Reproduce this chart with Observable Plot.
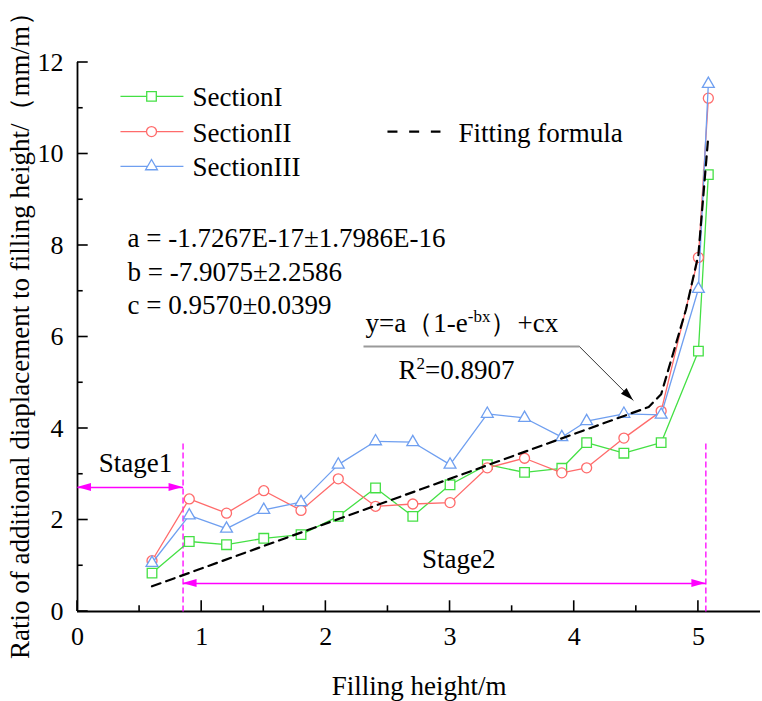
<!DOCTYPE html>
<html>
<head>
<meta charset="utf-8">
<script src="https://cdn.jsdelivr.net/npm/d3@7"></script>
<script src="https://cdn.jsdelivr.net/npm/@observablehq/plot@0.6"></script>
<style>
  html, body { margin: 0; padding: 0; background: #fff; }
  #chart svg { display: block; }
  #chart svg text { font-family: 'Liberation Serif', 'Times New Roman', serif; }
</style>
</head>
<body>
<div id="chart"></div>
<script>
// Measured ratio of additional displacement to filling height (mm/m) per section
const fillHeight = [0.6, 0.9, 1.2, 1.5, 1.8, 2.1, 2.4, 2.7, 3.0, 3.3, 3.6, 3.9, 4.1, 4.4, 4.7, 5.0, 5.08];
const sectionI   = [0.84, 1.53, 1.46, 1.60, 1.68, 2.08, 2.70, 2.08, 2.77, 3.21, 3.04, 3.13, 3.69, 3.46, 3.69, 5.69, 9.55];
const sectionII  = [1.11, 2.46, 2.15, 2.64, 2.21, 2.90, 2.30, 2.35, 2.38, 3.14, 3.35, 3.03, 3.14, 3.79, 4.38, 7.74, 11.22];
const sectionIII = [1.06, 2.10, 1.81, 2.22, 2.39, 3.21, 3.72, 3.70, 3.21, 4.32, 4.23, 3.81, 4.16, 4.32, 4.30, 7.05, 11.53];

// Fitted curve y = a(1 - e^(-bx)) + cx, as drawn
const fitHeight = [0.6, 4.6, 4.7, 4.9, 5.0, 5.08];
const fitRatio  = [0.55, 4.47, 4.75, 6.6, 7.8, 10.4];

const seriesNames = ["SectionI", "SectionII", "SectionIII"];
const fitName = "Fitting formula";
const fitParams = ["a = -1.7267E-17±1.7986E-16", "b = -7.9075±2.2586", "c = 0.9570±0.0399"];
const fitEquation = "y=a（1-e^{-bx}）+cx";
const fitR2 = "R^{2}=0.8907";

// Stage boundaries (filling height, m)
const stageBounds = [0.85, 5.06];
const stageNames = ["Stage1", "Stage2"];

const xTicks = [0, 1, 2, 3, 4, 5];
const xMinorTicks = [0.5, 1.5, 2.5, 3.5, 4.5];
const yTicks = [0, 2, 4, 6, 8, 10, 12];
const yMinorTicks = [1, 3, 5, 7, 9, 11];

const xTitle = "Filling height/m";
const yTitle = "Ratio of additional diaplacement to filling height/（mm/m）";

// ---- styling ----
const colors = ["#44e044", "#ff6b6b", "#6f9ff0"];
const symbols = ["square", "circle", "triangle"];
const radii = [5.4, 5, 4.4];
const magenta = "#ff00ff";
const font = "'Liberation Serif', 'Times New Roman', serif";

const values = [sectionI, sectionII, sectionIII];
const rows = fillHeight.flatMap((h, i) => values.map((v, k) => ({series: seriesNames[k], h, v: v[i]})));
const fit = fitHeight.map((h, i) => ({h, v: fitRatio[i]}));

// inward tick marks drawn from the scales
const inwardTicks = (axis, ticks, size) => (index, {x, y}) => {
  const g = d3.create("svg:g").attr("stroke", "black").attr("stroke-width", 1.6);
  for (const t of ticks) {
    if (axis === "x") g.append("line").attr("x1", x(t)).attr("x2", x(t)).attr("y1", y(0)).attr("y2", y(0) - size);
    else g.append("line").attr("x1", x(0)).attr("x2", x(0) + size).attr("y1", y(t)).attr("y2", y(t));
  }
  return g.node();
};

// filled arrow heads at the end of each [from, to] segment
const arrowHeads = (segments, fill, length, half) => (index, {x, y}) => {
  const g = d3.create("svg:g").attr("fill", fill);
  for (const [[x1, y1], [x2, y2]] of segments) {
    const px1 = x(x1), py1 = y(y1), px2 = x(x2), py2 = y(y2);
    const a = Math.atan2(py2 - py1, px2 - px1);
    const bx = px2 - length * Math.cos(a), by = py2 - length * Math.sin(a);
    const nx = -Math.sin(a) * half, ny = Math.cos(a) * half;
    g.append("path").attr("d", `M${px2},${py2}L${bx + nx},${by + ny}L${bx - nx},${by - ny}Z`);
  }
  return g.node();
};

// annotation layout (data units)
const stageArrowY = [2.71, 0.61];
const stageLineTop = [3.67, 3.74];
const stage1Seg = [[0, stageArrowY[0]], [stageBounds[0], stageArrowY[0]]];
const stage2Seg = [[stageBounds[0], stageArrowY[1]], [stageBounds[1], stageArrowY[1]]];
const callout = {bar: [[2.303, 5.79], [4.042, 5.79]], tip: [4.477, 4.61]};

const legendX = [0.346, 0.853, 0.596, 0.926];
const legendRowY = [11.26, 10.49, 9.73];
const legendTextY = [11.04, 10.27, 9.51];

const marks = [
  Plot.ruleX([0], {stroke: "black", strokeWidth: 1.8}),
  Plot.ruleY([0], {stroke: "black", strokeWidth: 1.8}),
  inwardTicks("x", xTicks, 10.7),
  inwardTicks("x", xMinorTicks, 5.7),
  inwardTicks("y", yTicks, 10.7),
  inwardTicks("y", yMinorTicks, 5.7),
  Plot.axisX(xTicks, {tickSize: 0, tickPadding: 15, fontSize: 26, fontFamily: font, tickFormat: d => String(d), label: null}),
  Plot.axisY(yTicks, {tickSize: 0, tickPadding: 14, fontSize: 26, fontFamily: font, tickFormat: d => String(d), label: null}),
  Plot.text([xTitle], {text: d => d, frameAnchor: "bottom", textAnchor: "middle", dy: 83, lineAnchor: "bottom", fontSize: 27}),
  Plot.text([yTitle], {text: d => d, frameAnchor: "left", textAnchor: "middle", rotate: -90, dx: -57, dy: -8, lineAnchor: "middle", fontSize: 27}),

  // stage markers
  Plot.link(stageBounds, {x1: d => d, x2: d => d, y1: 0, y2: (d, i) => stageLineTop[i], stroke: magenta, strokeWidth: 1.3, strokeDasharray: "6,3"}),
  Plot.link([stage1Seg, stage2Seg], {x1: d => d[0][0], y1: d => d[0][1], x2: d => d[1][0], y2: d => d[1][1], stroke: magenta, strokeWidth: 1.5}),
  arrowHeads([[stage1Seg[1], stage1Seg[0]], stage1Seg, [stage2Seg[1], stage2Seg[0]], stage2Seg], magenta, 14, 4),
  Plot.text(stageNames, {x: [0.467, 3.07], y: [3.04, 0.94], text: d => d, textAnchor: "middle", lineAnchor: "bottom", fontSize: 27}),
];

// measured series
seriesNames.forEach((name, k) => {
  const data = rows.filter(d => d.series === name);
  marks.push(Plot.line(data, {x: "h", y: "v", stroke: colors[k], strokeWidth: 1.3}));
  marks.push(Plot.dot(data, {x: "h", y: "v", symbol: symbols[k], r: radii[k], stroke: colors[k], fill: "white", strokeWidth: 1.3}));
});

marks.push(
  // fitted curve
  Plot.line(fit, {x: "h", y: "v", stroke: "black", strokeWidth: 2.2, strokeDasharray: "9,6"}),

  // fit parameters and equation callout
  Plot.text(fitParams, {x: 0.403, y: (d, i) => [7.96, 7.23, 6.51][i], text: d => d, textAnchor: "start", lineAnchor: "bottom", fontSize: 27}),
  Plot.text([fitEquation], {x: 2.32, y: 6.10, text: d => d, textAnchor: "start", lineAnchor: "bottom", fontSize: 27}),
  Plot.text([fitR2], {x: 2.585, y: 5.09, text: d => d, textAnchor: "start", lineAnchor: "bottom", fontSize: 27}),
  Plot.link([callout.bar], {x1: d => d[0][0], y1: d => d[0][1], x2: d => d[1][0], y2: d => d[1][1], stroke: "#9a9a9a", strokeWidth: 2}),
  Plot.link([[callout.bar[1], callout.tip]], {x1: d => d[0][0], y1: d => d[0][1], x2: d => d[1][0], y2: d => d[1][1], stroke: "#333", strokeWidth: 1}),
  arrowHeads([[callout.bar[1], callout.tip]], "black", 13, 4),

  // legend
  ...seriesNames.flatMap((name, k) => [
    Plot.link([k], {x1: legendX[0], x2: legendX[1], y1: legendRowY[k], y2: legendRowY[k], stroke: colors[k], strokeWidth: 1.3}),
    Plot.dot([k], {x: legendX[2], y: legendRowY[k], symbol: symbols[k], r: radii[k], stroke: colors[k], fill: "white", strokeWidth: 1.3}),
    Plot.text([name], {x: legendX[3], y: legendTextY[k], text: d => d, textAnchor: "start", lineAnchor: "bottom", fontSize: 27})
  ]),
  Plot.link([fitName], {x1: 2.496, x2: 2.923, y1: legendRowY[1], y2: legendRowY[1], stroke: "black", strokeWidth: 2.2, strokeDasharray: "10,11.7"}),
  Plot.text([fitName], {x: 3.068, y: legendTextY[1], text: d => d, textAnchor: "start", lineAnchor: "bottom", fontSize: 27})
);

const chart = Plot.plot({
  width: 762,
  height: 701,
  marginLeft: 77,
  marginRight: 2,
  marginTop: 62,
  marginBottom: 90,
  x: {domain: [0, 5.5]},
  y: {domain: [0, 12]},
  style: {fontFamily: font, fontSize: "26px", color: "black", background: "white", overflow: "visible"},
  marks
});

// turn ^{...} into raised tspans
d3.select(chart).selectAll("text").each(function () {
  const s = this.textContent;
  if (!s.includes("^{")) return;
  const el = d3.select(this);
  el.text(null);
  let raised = false;
  for (const part of s.split(/(\^\{[^}]*\})/)) {
    if (!part) continue;
    const m = part.match(/^\^\{(.*)\}$/);
    if (m) {
      el.append("tspan").attr("dy", -10).attr("font-size", 17).text(m[1]);
      raised = true;
    } else {
      const t = el.append("tspan").text(part);
      if (raised) { t.attr("dy", 10); raised = false; }
    }
  }
});

// tick digits use proportional serif figures
d3.select(chart).selectAll("text").style("font-variant", "normal");

document.getElementById("chart").appendChild(chart);
</script>
</body>
</html>
